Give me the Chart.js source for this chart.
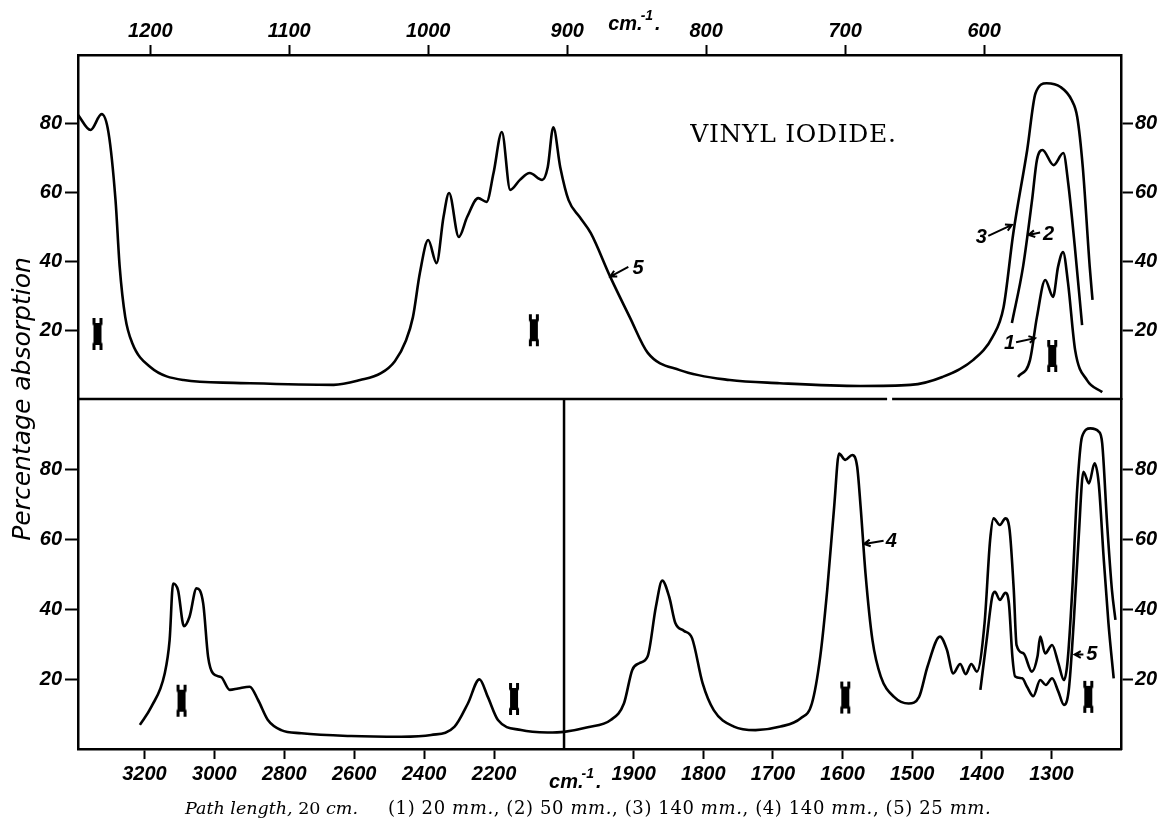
<!DOCTYPE html>
<html>
<head>
<meta charset="utf-8">
<title>Vinyl iodide</title>
<script src="https://cdn.jsdelivr.net/npm/chart.js@4.4.1/dist/chart.umd.min.js"></script>
<style>
  html, body { margin: 0; padding: 0; background: #fff; }
  #wrap { position: relative; width: 1161px; height: 828px; }
  #spectrum { position: absolute; left: 0; top: 0; }
  .caption { position: absolute; top: 797px; font-family: "DejaVu Serif", serif; line-height: 22px; white-space: pre; color: #000; }
  #caption1 { left: 185px; font-size: 17.5px; }
  #caption2 { left: 388px; font-size: 18px; letter-spacing: 0.6px; }
</style>
</head>
<body>
<div id="wrap">
  <canvas id="spectrum" width="1161" height="828"></canvas>
  <div class="caption" id="caption1"><i>Path length,</i> 20 <i>cm.</i></div>
  <div class="caption" id="caption2">(1) 20 <i>mm.</i>, (2) 50 <i>mm.</i>, (3) 140 <i>mm.</i>, (4) 140 <i>mm.</i>, (5) 25 <i>mm.</i></div>
</div>
<script>
var TopTicks = [1200, 1100, 1000, 900, 800, 700, 600];
var BottomTicks = [3200, 3000, 2800, 2600, 2400, 2200, 1900, 1800, 1700, 1600, 1500, 1400, 1300];
var AbsTicks = [20, 40, 60, 80];

// upper panel, wavenumbers on the top scale
var TopWave5 = [1252, 1243, 1235, 1230, 1225, 1222, 1218, 1213, 1200, 1176, 1140, 1068, 1049, 1034, 1024, 1016, 1011, 1006, 1000, 994,
                989, 985, 978, 972, 964, 958, 953, 947, 941, 934, 927, 918, 914, 910, 905, 899, 891, 883, 869, 855,
                842, 819, 783, 747, 689, 653, 630, 608, 594, 586, 579, 569, 563, 555, 545, 537, 533, 529, 524, 522];
var TopAbs5 = [82.6, 78.2, 82.8, 77.3, 57.8, 38.4, 23.8, 16.3, 9.3, 5.5, 4.7, 4.1, 5.5, 7.5, 11, 17, 23.8, 36.6, 46.2, 39.5,
               52.9, 59.9, 47.1, 52.9, 58.4, 57.3, 65.7, 77.6, 60.8, 63.7, 65.7, 63.7, 67.4, 79, 67.4, 57.8, 52.9, 48.2, 35.5, 23.8,
               13.4, 8.4, 5.5, 4.6, 3.8, 4.1, 6.4, 11.3, 18, 26.7, 48.2, 72.4, 88.9, 91.8, 90.7, 86.9, 82, 67.4, 38.4, 28.8];
var TopWave2 = [580, 572, 565.5, 562, 558, 550, 543, 539.5, 534.5, 529.5];
var TopAbs2 = [22.1, 38.4, 57.8, 69.5, 72.4, 68, 71.5, 62.8, 43.3, 21.5];
var TopWave1 = [575.6, 567, 562, 556, 550.4, 546.8, 543.2, 539.6, 534.5, 526, 515];
var TopAbs1 = [6.4, 11.3, 23.8, 34.6, 29.7, 38.4, 42.7, 33.7, 14.2, 5.5, 2.0];

// lower panel, wavenumbers on the bottom (broken) scale
var BotWave4 = [3213, 3180, 3142, 3128, 3118, 3104, 3087, 3071, 3051, 3032, 3018, 3004, 2980, 2956, 2932, 2899, 2875, 2847, 2809, 2751,
                2609, 2466, 2380, 2313, 2275, 2242, 2218, 2189, 2123, 2047, 2000, 1966, 1933, 1914, 1902, 1892, 1880, 1868, 1859, 1849,
                1840, 1828, 1816, 1801, 1785, 1756, 1725, 1689, 1660, 1644, 1632, 1622, 1612, 1605, 1596, 1586, 1579, 1574, 1567, 1557,
                1545, 1526, 1505, 1490, 1478, 1460, 1450, 1441, 1431, 1423, 1415, 1407, 1396, 1388, 1383, 1374, 1366, 1360, 1354, 1350,
                1340, 1328, 1320, 1316, 1309, 1299, 1290, 1282, 1277, 1270, 1263, 1256, 1244, 1232, 1227, 1220, 1213, 1208];
var BotAbs4 = [6.9, 12.1, 21.6, 31.1, 47.3, 45.4, 35.1, 37.8, 45.9, 41.6, 26.4, 21.6, 20.5, 16.9, 17.3, 17.8, 14.0, 8.3, 5.4, 4.5,
               3.7, 3.5, 4.0, 6.4, 13.0, 19.9, 14.9, 8.3, 5.4, 4.7, 4.9, 6.2, 8.3, 13.0, 22.6, 24.5, 26.4, 40.7, 48.1, 43.5,
               35.9, 33.8, 31.6, 18.8, 11.1, 6.4, 5.4, 6.4, 8.8, 13.0, 26.4, 45.4, 69.2, 84.4, 82.6, 84.0, 80.7, 69.2, 50.2, 31.1,
               20.7, 14.9, 13.0, 14.9, 23.5, 32.1, 28.3, 21.6, 24.3, 21.4, 24.3, 22.1, 35.9, 59.7, 65.9, 64.0, 65.9, 62.6, 45.4, 29.7,
               27.3, 22.1, 26.4, 32.1, 27.3, 29.7, 24.5, 19.7, 24.5, 45.4, 74.0, 89.2, 91.6, 90.7, 87.3, 64.5, 45.4, 36.9];
var BotWave5 = [1402, 1393, 1385, 1381, 1374, 1366, 1361, 1356, 1352, 1342, 1335, 1326, 1316, 1308, 1299, 1290, 1282, 1275, 1268, 1261,
                1254, 1246, 1238, 1232, 1225, 1218, 1210.5];
var BotAbs5 = [16.9, 31.1, 43.5, 44.9, 42.6, 44.6, 41.6, 26.4, 20.7, 20.2, 17.8, 15.1, 19.7, 18.3, 20.2, 16.4, 12.6, 16.9, 35.9, 59.7,
               79.2, 75.9, 81.6, 75.9, 54.9, 35.9, 20.2];

// slit width marks
var TopSlitWave = [1238, 924, 551];
var TopSlitAbs = [18.9, 20, 12.5];
var BotSlitWave = [3094, 2143, 1596, 1247];
var BotSlitAbs = [13.8, 14.3, 14.7, 14.9];

// curve numbers with their arrows (wavenumber, percentage)
var Pointers = [
    { x: 'xTop', y: 'yTop', text: '5', head: [869, 35.6], tail: [856, 38.4], label: [853, 37.8], align: 'left' },
    { x: 'xTop', y: 'yTop', text: '3', head: [580, 50.6], tail: [597, 47.4], label: [598, 46.9], align: 'right' },
    { x: 'xTop', y: 'yTop', text: '2', head: [568, 47.7], tail: [559.7, 48.4], label: [557.6, 47.7], align: 'left' },
    { x: 'xTop', y: 'yTop', text: '1', head: [563.3, 17.7], tail: [577, 16.5], label: [577.7, 16], align: 'right' },
    { x: 'xBot', y: 'yBot', text: '4', head: [1569, 58.6], tail: [1541, 59.5], label: [1538, 59.4], align: 'left' },
    { x: 'xBot', y: 'yBot', text: '5', head: [1266.6, 27], tail: [1254, 27], label: [1250, 26.9], align: 'left' }
];

var TickFont = { family: 'Liberation Sans', size: 20, style: 'italic', weight: 'bold' };
var LabelFont = 'italic bold 20px "Liberation Sans"';

// bottom scale: 3390-2000 squeezed on the left, 2000-1200 at double scale on the right
var BreakWave = 2000;
var BreakFraction = 0.466;

class BrokenScale extends Chart.LinearScale {
    static id = 'broken';
    fraction(v) {
        if (v >= BreakWave) return (this.max - v) / (this.max - BreakWave) * BreakFraction;
        return BreakFraction + (BreakWave - v) / (BreakWave - this.min) * (1 - BreakFraction);
    }
    getPixelForValue(v) {
        if (v === null || v === undefined) return NaN;
        return this.left + this.fraction(v) * this.width;
    }
    getValueForPixel(p) {
        var f = (p - this.left) / this.width;
        if (f <= BreakFraction) return this.max - f / BreakFraction * (this.max - BreakWave);
        return BreakWave - (f - BreakFraction) / (1 - BreakFraction) * (BreakWave - this.min);
    }
}
Chart.register(BrokenScale);

function MakeSlitMark() {
    var c = document.createElement('canvas');
    c.width = 12;
    c.height = 34;
    var g = c.getContext('2d');
    var pts = [[1, 1], [4, 1], [4, 6], [8, 6], [8, 1], [11, 1], [11, 7], [10, 9], [10, 25], [11, 27], [11, 33], [8, 33],
               [8, 28], [4, 28], [4, 33], [1, 33], [1, 27], [2, 25], [2, 9], [1, 7]];
    g.fillStyle = '#000';
    g.beginPath();
    g.moveTo(pts[0][0], pts[0][1]);
    for (var i = 1; i < pts.length; i++) g.lineTo(pts[i][0], pts[i][1]);
    g.closePath();
    g.fill();
    return c;
}
var SlitMark = MakeSlitMark();

function Points(waves, values) {
    return waves.map(function (w, i) { return { x: w, y: values[i] }; });
}

function Curve(waves, values, xId, yId) {
    return {
        data: Points(waves, values), xAxisID: xId, yAxisID: yId,
        borderColor: '#000', borderWidth: 2.6, pointRadius: 0, fill: false,
        cubicInterpolationMode: 'monotone'
    };
}

function Marks(waves, values, xId, yId) {
    return {
        data: Points(waves, values), xAxisID: xId, yAxisID: yId,
        showLine: false, pointStyle: SlitMark, pointRadius: 8, borderWidth: 0
    };
}

function FixedTicks(list) {
    return function (s) { s.ticks = list.map(function (v) { return { value: v }; }); };
}

function PlainLabel(v) { return String(v); }

function YAxis(side, weight) {
    var left = side == 'left';
    return {
        type: 'linear', position: side, stack: side, stackWeight: weight,
        min: 0, max: 100,
        afterBuildTicks: FixedTicks(AbsTicks),
        afterFit: function (s) { s.width = left ? 78 : 40; },
        grid: { drawOnChartArea: false, tickLength: left ? 13 : 12, tickWidth: 2, tickColor: '#000' },
        border: { color: '#000', width: 2.5 },
        ticks: { font: TickFont, color: '#000', padding: left ? 3 : 2, callback: PlainLabel }
    };
}

function DrawArrow(ctx, x1, y1, x2, y2) {
    var a = Math.atan2(y2 - y1, x2 - x1), l = 7;
    ctx.beginPath();
    ctx.moveTo(x1, y1);
    ctx.lineTo(x2, y2);
    ctx.moveTo(x2 - l * Math.cos(a - 0.5), y2 - l * Math.sin(a - 0.5));
    ctx.lineTo(x2, y2);
    ctx.lineTo(x2 - l * Math.cos(a + 0.5), y2 - l * Math.sin(a + 0.5));
    ctx.stroke();
}

function DrawUnit(ctx, x, y) {
    ctx.textAlign = 'left';
    ctx.textBaseline = 'alphabetic';
    ctx.font = LabelFont;
    ctx.fillText('cm.', x, y);
    var w = ctx.measureText('cm.').width;
    ctx.font = 'italic bold 14px "Liberation Sans"';
    ctx.fillText('-1', x + w - 2, y - 10);
    var w2 = ctx.measureText('-1').width;
    ctx.font = LabelFont;
    ctx.fillText('.', x + w + w2, y);
}

var Decorations = {
    id: 'decorations',
    afterDraw: function (chart) {
        var ctx = chart.ctx, s = chart.scales, area = chart.chartArea;
        ctx.save();
        ctx.strokeStyle = '#000';
        ctx.fillStyle = '#000';
        ctx.lineWidth = 2.5;

        // line between the panels (with the small gap of the original)
        var mid = s.yTop.bottom;
        ctx.beginPath();
        ctx.moveTo(area.left, mid);
        ctx.lineTo(s.xTop.getPixelForValue(669.8), mid);
        ctx.moveTo(s.xTop.getPixelForValue(666.2), mid);
        ctx.lineTo(area.right, mid);
        ctx.stroke();

        // break of the lower scale
        var bx = s.xBot.getPixelForValue(BreakWave);
        ctx.beginPath();
        ctx.moveTo(bx, s.yBot.top);
        ctx.lineTo(bx, s.yBot.bottom);
        ctx.stroke();

        // curve numbers
        ctx.lineWidth = 2;
        ctx.font = LabelFont;
        ctx.textBaseline = 'middle';
        Pointers.forEach(function (p) {
            var xs = s[p.x], ys = s[p.y];
            DrawArrow(ctx, xs.getPixelForValue(p.tail[0]), ys.getPixelForValue(p.tail[1]),
                      xs.getPixelForValue(p.head[0]), ys.getPixelForValue(p.head[1]));
            ctx.textAlign = p.align;
            ctx.fillText(p.text, xs.getPixelForValue(p.label[0]), ys.getPixelForValue(p.label[1]));
        });

        // title
        ctx.textAlign = 'left';
        ctx.textBaseline = 'alphabetic';
        ctx.font = '25px "DejaVu Serif"';
        ctx.letterSpacing = '0.7px';
        ctx.fillText('VINYL IODIDE.', s.xTop.getPixelForValue(811.5), s.yTop.getPixelForValue(74.8));
        ctx.letterSpacing = '0px';

        // units
        DrawUnit(ctx, s.xTop.getPixelForValue(870.5), area.top - 25);
        DrawUnit(ctx, s.xBot.getPixelForValue(2043), area.bottom + 39);

        // axis title
        ctx.translate(23, mid);
        ctx.rotate(-Math.PI / 2);
        ctx.textAlign = 'center';
        ctx.textBaseline = 'middle';
        ctx.font = 'italic 25px "DejaVu Sans"';
        ctx.fillText('Percentage absorption', 0, 0);
        ctx.restore();
    }
};

var ctx = document.getElementById('spectrum');
var SpectrumChart = new Chart(ctx, {
    type: 'line',
    data: {
        datasets: [
            Curve(TopWave5, TopAbs5, 'xTop', 'yTop'),
            Curve(TopWave2, TopAbs2, 'xTop', 'yTop'),
            Curve(TopWave1, TopAbs1, 'xTop', 'yTop'),
            Marks(TopSlitWave, TopSlitAbs, 'xTop', 'yTop'),
            Curve(BotWave4, BotAbs4, 'xBot', 'yBot'),
            Curve(BotWave5, BotAbs5, 'xBot', 'yBot'),
            Marks(BotSlitWave, BotSlitAbs, 'xBot', 'yBot')
        ]
    },
    options: {
        responsive: false,
        devicePixelRatio: 1,
        animation: false,
        events: [],
        layout: { padding: 0 },
        plugins: { legend: { display: false }, tooltip: { enabled: false } },
        scales: {
            xTop: {
                type: 'linear', position: 'top', reverse: true, min: 501.5, max: 1252,
                afterBuildTicks: FixedTicks(TopTicks),
                afterFit: function (s) { s.height = 55; },
                grid: { drawOnChartArea: false, tickLength: 10, tickWidth: 2, tickColor: '#000' },
                border: { color: '#000', width: 2.5 },
                ticks: { font: TickFont, color: '#000', padding: 2, autoSkip: false, maxRotation: 0, callback: PlainLabel }
            },
            xBot: {
                type: 'broken', position: 'bottom', min: 1200, max: 3390,
                afterBuildTicks: FixedTicks(BottomTicks),
                afterFit: function (s) { s.height = 79; },
                grid: { drawOnChartArea: false, tickLength: 10, tickWidth: 2, tickColor: '#000' },
                border: { color: '#000', width: 2.5 },
                ticks: { font: TickFont, color: '#000', padding: 3, autoSkip: false, maxRotation: 0, callback: PlainLabel }
            },
            yBot: YAxis('left', 350),
            yTop: YAxis('left', 344),
            yTopR: YAxis('right', 344),
            yBotR: YAxis('right', 350)
        }
    },
    plugins: [Decorations]
});
</script>
</body>
</html>
